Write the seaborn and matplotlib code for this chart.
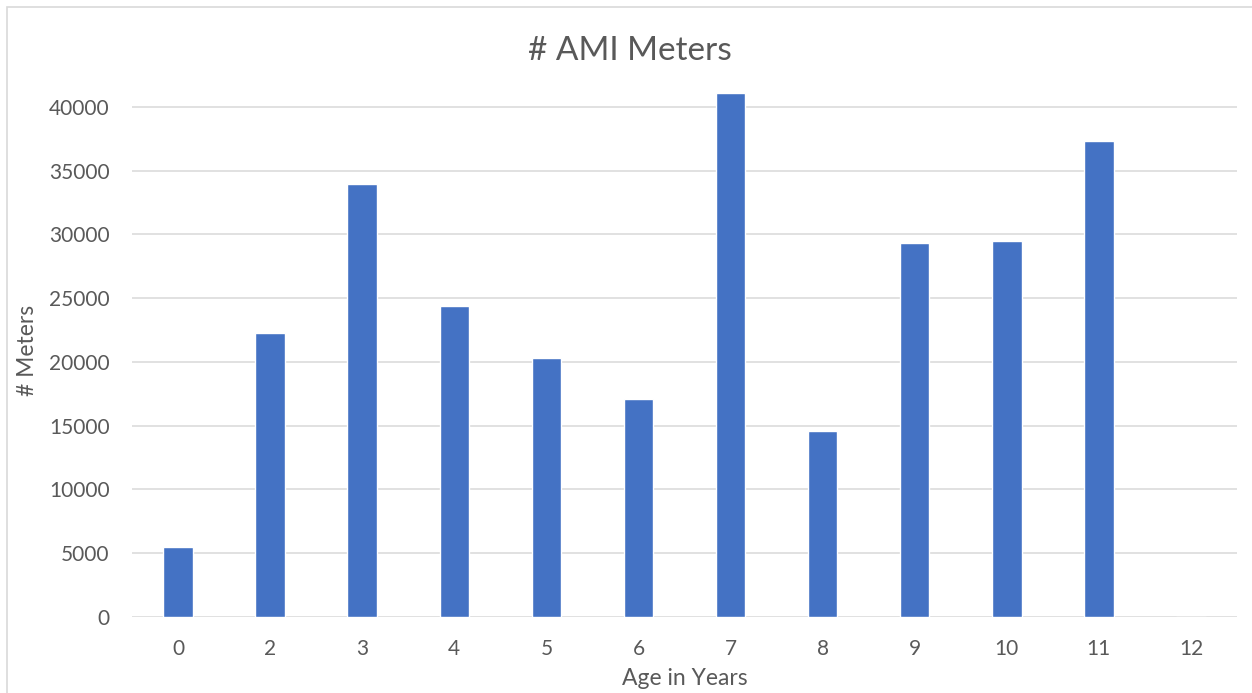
import matplotlib
matplotlib.use('Agg')
import matplotlib.pyplot as plt
from matplotlib.patches import Rectangle
import seaborn as sns

# ── Data ───────────────────────────────────────────────
ages   = ['0', '2', '3', '4', '5', '6', '7', '8', '9', '10', '11', '12']
meters = [5490, 22270, 33940, 24370, 20290, 17050, 41130, 14540, 29290, 29490, 37290, 0]
y_ticks = [0, 5000, 10000, 15000, 20000, 25000, 30000, 35000, 40000]
# ───────────────────────────────────────────────────────

BAR_COLOR  = '#4472C4'
GRID_COLOR = '#D9D9D9'
TEXT_COLOR = '#595959'

sns.set_theme(style='white')
plt.rcParams['font.family'] = ['Lato', 'DejaVu Sans']

W, H = 1252, 693
fig = plt.figure(figsize=(W / 100, H / 100), dpi=100)
ax_h = 616.7 - 84
ax_w = 1237 - 132
ax = fig.add_axes([132 / W, 1 - 616.7 / H, ax_w / W, ax_h / H])

sns.barplot(x=ages, y=meters, color=BAR_COLOR, saturation=1, width=0.32, ax=ax)

ax.set_xlim(-0.5, len(ages) - 0.5)
ax.set_ylim(0, 41800)
ax.set_yticks(y_ticks)
ax.set_yticklabels([str(v) for v in y_ticks])
ax.grid(axis='y', color=GRID_COLOR, linewidth=1.1)
ax.set_axisbelow(True)
for s in ax.spines.values():
    s.set_visible(False)

ax.tick_params(axis='both', length=0, labelsize=15, labelcolor=TEXT_COLOR)
ax.tick_params(axis='y', pad=16)
ax.tick_params(axis='x', pad=16)

ax.set_xlabel('Age in Years', fontsize=16.5, color=TEXT_COLOR)
ax.xaxis.set_label_coords(0.5, -(668 - 616.7) / ax_h)
ax.set_ylabel('# Meters', fontsize=16.5, color=TEXT_COLOR)
ax.yaxis.set_label_coords(-(132 - 38) / ax_w, 0.5)

fig.text(630 / W, 1 - 51 / H, '# AMI Meters', ha='center', va='center',
         fontsize=24, color=TEXT_COLOR)

# light chart-area frame (cropped at right/bottom)
fig.add_artist(Rectangle((7 / W, -0.5), 2, 1 - 7 / H + 0.5, transform=fig.transFigure,
                         fill=False, edgecolor=GRID_COLOR, linewidth=1.2, clip_on=False))

fig.savefig('out.png', dpi=100, facecolor='white')
